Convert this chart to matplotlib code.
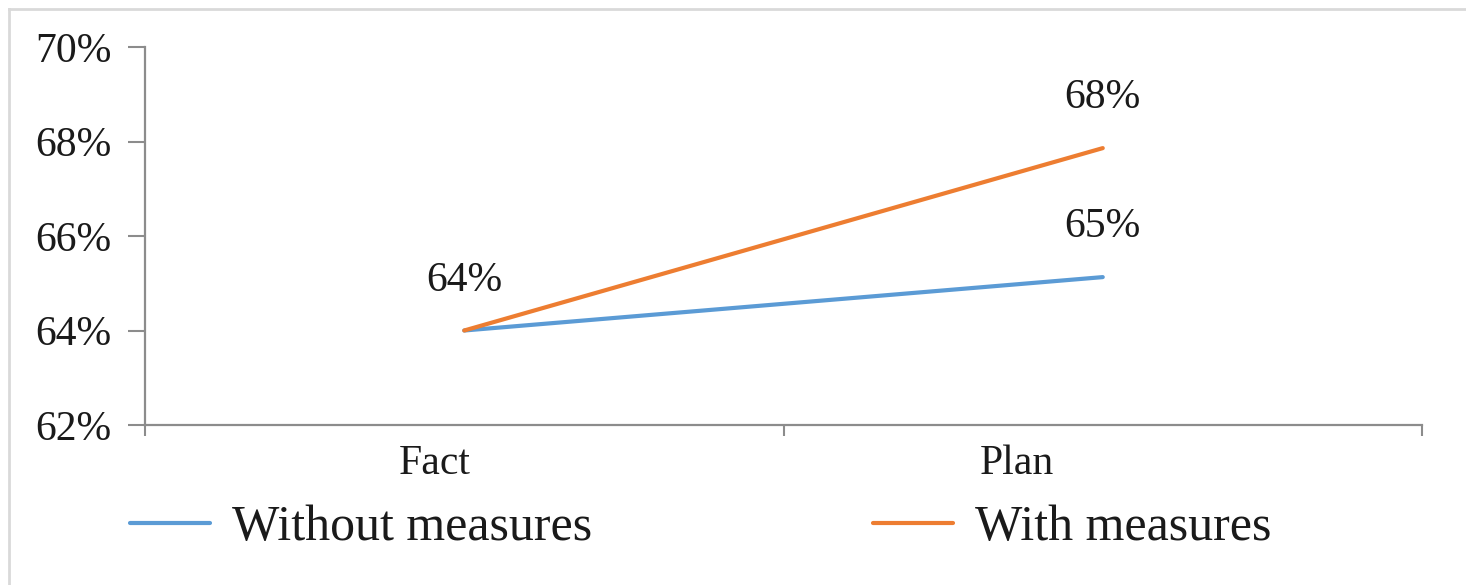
import matplotlib
matplotlib.use("Agg")
import matplotlib.pyplot as plt
import matplotlib.transforms as mtransforms
from matplotlib.lines import Line2D
from matplotlib.ticker import FixedLocator, PercentFormatter

categories = ["Fact", "Plan"]
without_measures = [64.0, 65.13]
with_measures = [64.0, 67.86]
series_names = ["Without measures", "With measures"]
y_ticks = [62, 64, 66, 68, 70]

plt.rcParams["font.family"] = ["Liberation Serif", "DejaVu Serif"]

fig = plt.figure(figsize=(14.66, 5.85), dpi=100)
ax = fig.add_axes([145 / 1466, 1 - 425 / 585, (1422 - 145) / 1466, (425 - 47) / 585])

# light chart-area frame (only top and left edges fall inside the image)
fx, fy = 9 / 1466, 1 - 9 / 585
fig.lines.append(Line2D([fx, 1.0], [fy, fy], transform=fig.transFigure,
                        color="#d9d9d9", linewidth=2))
fig.lines.append(Line2D([fx, fx], [0.0, fy], transform=fig.transFigure,
                        color="#d9d9d9", linewidth=2))

x = range(len(categories))
blue, orange = "#5B9BD5", "#ED7D31"
ax.plot(x, without_measures, color=blue, linewidth=3, solid_capstyle="round",
        label=series_names[0])
ax.plot(x, with_measures, color=orange, linewidth=3, solid_capstyle="round",
        label=series_names[1])

# value labels: the shared starting point is labelled once
labels = [(0, with_measures[0]), (1, with_measures[1]), (1, without_measures[1])]
for xi, v in labels:
    ax.annotate(f"{v:.0f}%", (xi, v), xytext=(0, 36), textcoords="offset points",
                ha="center", va="center", fontsize=30, color="#1a1a1a")

ax.set_xlim(-0.5, 1.5)
ax.set_ylim(62, 70)
ax.set_yticks(y_ticks)
ax.yaxis.set_major_formatter(PercentFormatter(decimals=0))

ax.set_xticks(list(x))
ax.set_xticklabels(categories)
ax.xaxis.set_minor_locator(FixedLocator([-0.5, 0.5, 1.5]))

for side in ("top", "right"):
    ax.spines[side].set_visible(False)
for side in ("left", "bottom"):
    ax.spines[side].set_color("#8c8c8c")
    ax.spines[side].set_linewidth(1.6)

ax.tick_params(axis="y", length=12, width=1.5, color="#8c8c8c", pad=12,
               labelsize=30, labelcolor="#1a1a1a")
ax.tick_params(axis="x", which="major", length=0, pad=14, labelsize=30,
               labelcolor="#1a1a1a")
ax.tick_params(axis="x", which="minor", length=8, width=1.5, color="#8c8c8c")

# category labels sit a little left of their points
shifts = [-30, -86]
for lbl, dx in zip(ax.get_xticklabels(), shifts):
    lbl.set_transform(lbl.get_transform() +
                      mtransforms.ScaledTranslation(dx / 100, 0, fig.dpi_scale_trans))

fig.legend(loc="center left", bbox_to_anchor=(130 / 1466, 1 - 528 / 585),
           ncol=2, frameon=False, fontsize=36, handlelength=1.6,
           handletextpad=0.45, columnspacing=5.6, borderpad=0, borderaxespad=0,
           labelcolor="#1a1a1a")

fig.savefig("out.png", dpi=100)
